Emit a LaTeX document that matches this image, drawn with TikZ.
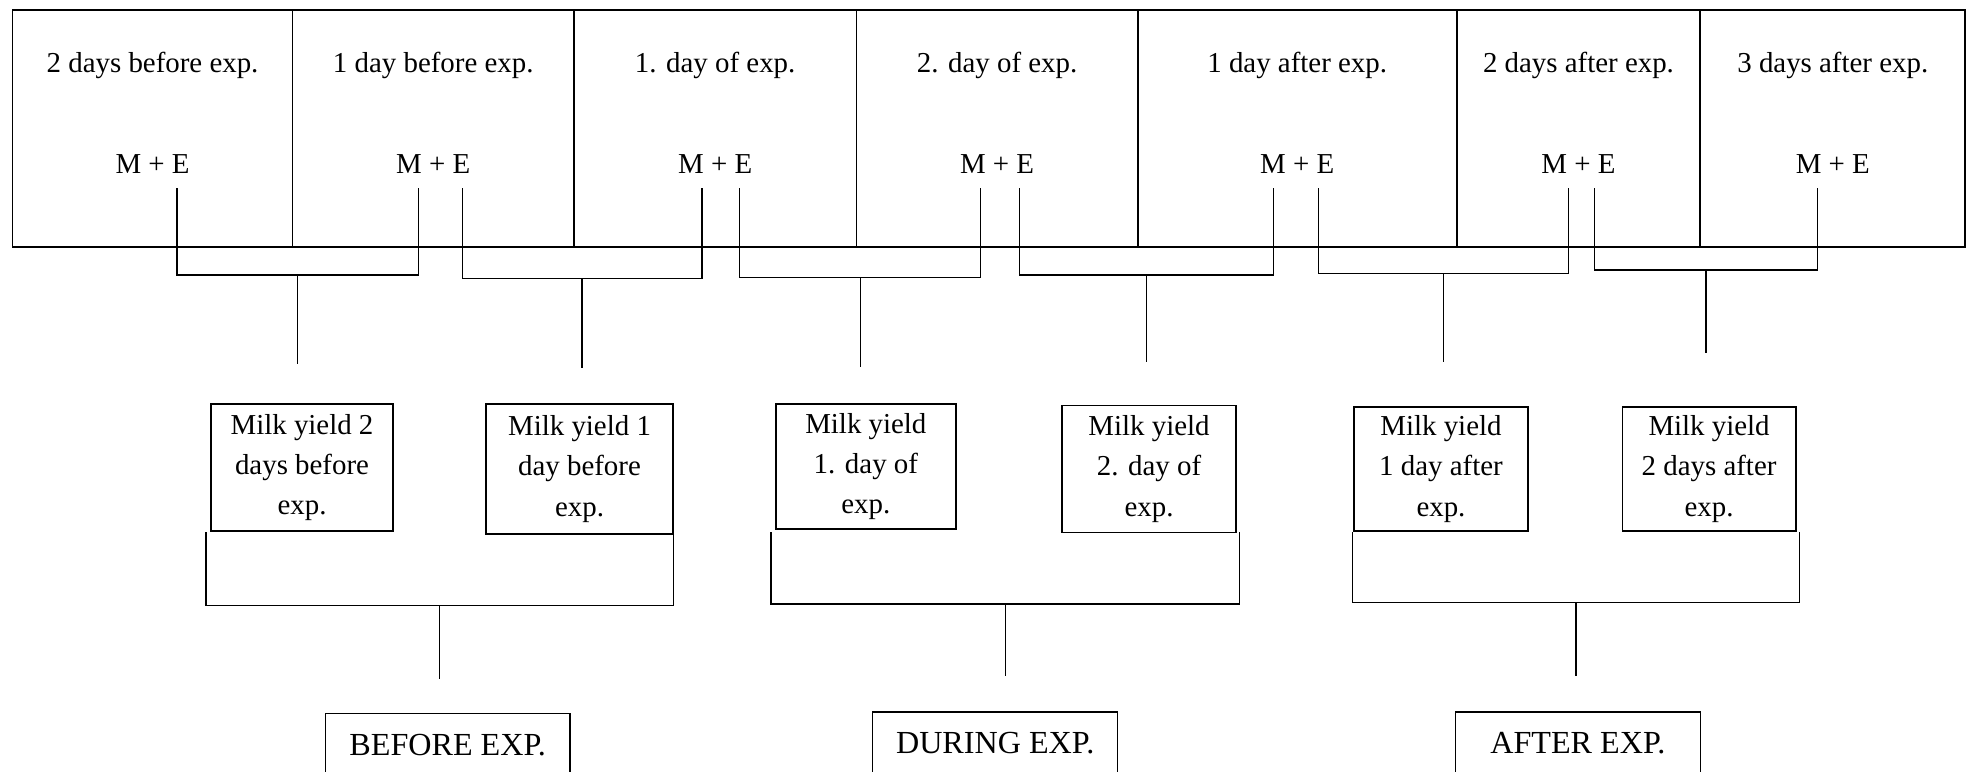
\documentclass[tikz,border=0pt]{standalone}
\usepackage{fontspec}
\setmainfont{Liberation Serif}
\usepackage{tikz}
\usetikzlibrary{positioning}

\begin{document}
\begin{tikzpicture}[x=0.5pt,y=-0.5pt,
        strip/.style={line width=0.7pt},
        daytext/.style={inner sep=1pt,font=\fontsize{11.5}{16}\selectfont},
        milkbox/.style={draw,line width=0.7pt,align=center,inner sep=2pt,font=\fontsize{11.5}{16}\selectfont},
        periodbox/.style={draw,line width=0.5pt,inner sep=2pt,font=\fontsize{12.8}{16}\selectfont},
        link/.style={line width=0.45pt}]
        \useasboundingbox (0,0) rectangle (1568,614);
        \clip (0,0) rectangle (1568,614);
        % strip of days
        \draw[strip] (10,8) rectangle (1565,197);
        \foreach \x in {233,457,682,906,1160,1354}
        \draw[strip] (\x,8) -- (\x,197);
        \foreach \x/\t [count=\i] in {121.5/2 days before exp., 345/1 day before exp., 569.5/1. day of exp., 794/2. day of exp., 1033/1 day after exp., 1257/2 days after exp., 1459.5/3 days after exp.}
        {
        \node[daytext] (day\i) at (\x,52) {\t};
        \node[daytext] (me\i) at (\x,131) {M + E};
        }
        % brackets under the strip
        \foreach \a/\b/\y/\s [count=\i] in {141/333/219/290, 368/559/222/293, 589/781/221/292, 812/1014/219/288, 1050/1249/218/288, 1270/1447/215/281}
        {
        \coordinate (ul\i) at (\a,150);
        \coordinate (ur\i) at (\b,150);
        \coordinate (um\i) at ({(\a+\b)/2},\y);
        \coordinate (us\i) at ({(\a+\b)/2},\s);
        \draw[link] (ul\i) |- (um\i) -| (ur\i);
        \draw[link] (um\i) -- (us\i);
        }
        % milk yield boxes
        \node[milkbox, minimum width=72.5pt, minimum height=50.5pt] (milk1) at (240.5,372.5) {Milk yield 2\\days before\\exp.};
        \node[milkbox, minimum width=74.5pt, minimum height=51.5pt] (milk2) at (461.5,373.5) {Milk yield 1\\day before\\exp.};
        \node[milkbox, minimum width=71.5pt, minimum height=49.5pt] (milk3) at (689.5,371.5) {Milk yield\\1. day of\\exp.};
        \node[milkbox, minimum width=69pt, minimum height=50.5pt] (milk4) at (915,373.5) {Milk yield\\2. day of\\exp.};
        \node[milkbox, minimum width=69.5pt, minimum height=49.5pt] (milk5) at (1147.5,373.5) {Milk yield\\1 day after\\exp.};
        \node[milkbox, minimum width=69pt, minimum height=49.5pt] (milk6) at (1361,373.5) {Milk yield\\2 days after\\exp.};
        % brackets under the milk boxes
        \foreach \a/\b/\y/\s [count=\i] in {164/536/482/541, 614/987/481/538, 1077/1433/480/538}
        {
        \coordinate (ll\i) at (\a,424);
        \coordinate (lr\i) at (\b,424);
        \coordinate (lm\i) at ({(\a+\b)/2},\y);
        \coordinate (ls\i) at ({(\a+\b)/2},\s);
        \draw[link] (ll\i) |- (lm\i) -| (lr\i);
        \draw[link] (lm\i) -- (ls\i);
        }
        % periods
        \node[periodbox, minimum width=97.5pt, minimum height=25pt] (before) at (356.5,593) {BEFORE EXP.};
        \node[periodbox, minimum width=97.5pt, minimum height=25pt] (during) at (792.5,592) {DURING EXP.};
        \node[periodbox, minimum width=97.5pt, minimum height=25pt] (after) at (1256.5,592) {AFTER EXP.};
\end{tikzpicture}
\end{document}
